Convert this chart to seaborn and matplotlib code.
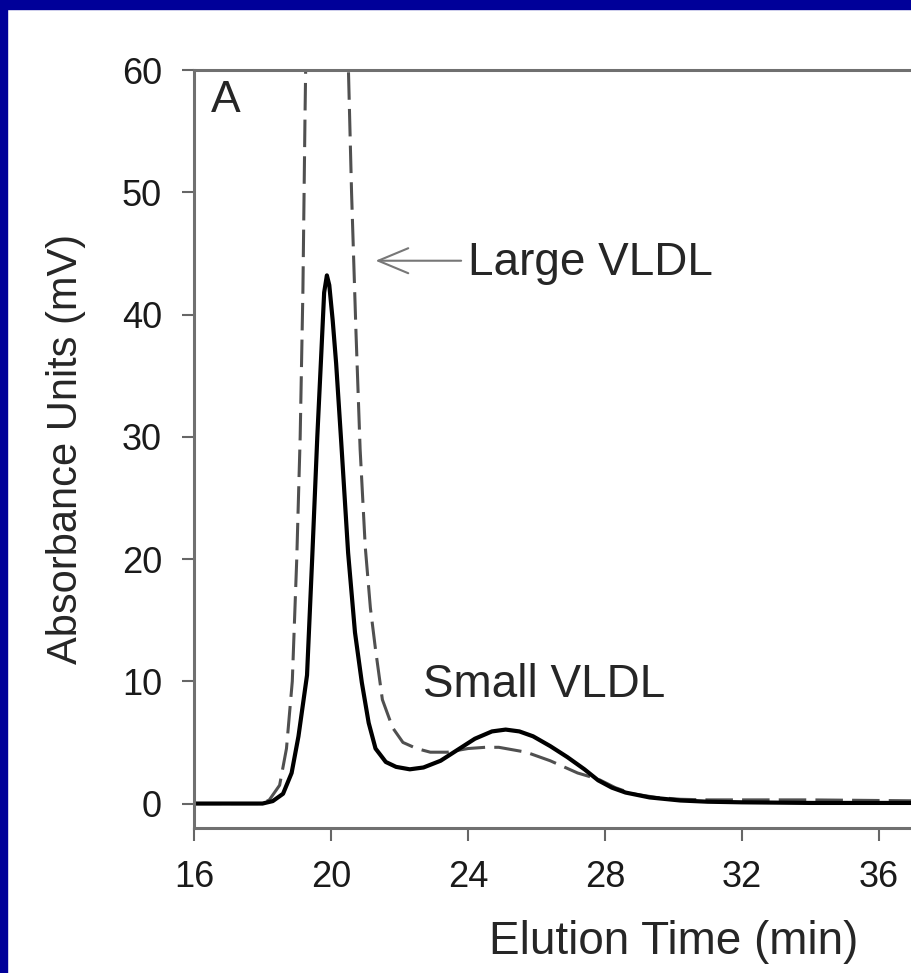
import matplotlib
matplotlib.use("Agg")
import matplotlib.pyplot as plt
from matplotlib.patches import Rectangle
import seaborn as sns
import pandas as pd

# elution profile, solid trace
x_solid = [16.0, 17.0, 18.0, 18.3, 18.6, 18.85, 19.05, 19.2, 19.3, 19.45, 19.6,
           19.72, 19.8, 19.88, 19.95, 20.05, 20.15, 20.3, 20.5, 20.7, 20.9, 21.1,
           21.3, 21.6, 21.9, 22.3, 22.7, 23.2, 23.7, 24.2, 24.7, 25.1, 25.5,
           25.9, 26.4, 26.9, 27.4, 27.8, 28.2, 28.6, 29.3, 30.2, 31.0, 32.0,
           34.0, 36.0, 38.0, 40.0]
y_solid = [0, 0, 0, 0.2, 0.8, 2.5, 5.5, 8.5, 10.5, 20, 30,
           37, 41.8, 43.2, 42.4, 39.5, 36, 29.5, 20.5, 14, 9.9, 6.6,
           4.5, 3.4, 3.0, 2.8, 2.95, 3.5, 4.4, 5.3, 5.9, 6.05, 5.9,
           5.5, 4.7, 3.8, 2.8, 1.9, 1.3, 0.9, 0.5, 0.25, 0.15, 0.1,
           0.05, 0.05, 0.05, 0.05]

# dashed trace (peak runs off the top of the plot)
x_dash = [16.0, 17.0, 18.0, 18.2, 18.5, 18.7, 18.87, 19.0, 19.1, 19.18, 19.24,
          19.3, 19.5, 19.7, 19.85, 20.0, 20.2, 20.4, 20.5, 20.6, 20.73, 20.85,
          21.0, 21.15, 21.3, 21.5, 21.8, 22.1, 22.5, 22.9, 23.4, 24.0, 24.5,
          24.9, 25.3, 25.7, 26.4, 27.2, 27.8, 28.3, 28.8, 29.5, 30.2, 31.0,
          32.0, 34.0, 36.0, 38.0, 40.0]
y_dash = [0, 0, 0, 0.3, 1.5, 4.5, 10, 20, 30, 42, 56,
          68, 78, 83, 84, 83, 78, 68, 61, 50, 38.5, 29,
          21, 16, 12.6, 8.5, 6.2, 5.0, 4.5, 4.2, 4.2, 4.5, 4.6,
          4.6, 4.4, 4.2, 3.5, 2.5, 2.0, 1.3, 0.8, 0.5, 0.35, 0.3,
          0.3, 0.3, 0.25, 0.2, 0.2]

x_ticks = [16, 20, 24, 28, 32, 36]
y_ticks = [0, 10, 20, 30, 40, 50, 60]

df_solid = pd.DataFrame({"time": x_solid, "abs": y_solid})
df_dash = pd.DataFrame({"time": x_dash, "abs": y_dash})

sns.set_style("ticks")
plt.rcParams["font.family"] = ["Liberation Sans", "DejaVu Sans"]

fig = plt.figure(figsize=(9.12, 9.73), dpi=100)
# the panel is cropped on the right, so the axes run past the figure edge
ax = fig.add_axes([194 / 912, 1 - 828 / 973, 959 / 912, 758 / 973])

sns.lineplot(data=df_dash, x="time", y="abs", ax=ax, color="#505050",
             linewidth=2.2, linestyle=(0, (9, 3)), estimator=None, sort=False)
sns.lineplot(data=df_solid, x="time", y="abs", ax=ax, color="black",
             linewidth=3.0, estimator=None, sort=False)

ax.set_xlim(16, 44)
ax.set_ylim(-2, 60)
ax.set_xticks(x_ticks)
ax.set_yticks(y_ticks)
ax.tick_params(axis="both", labelsize=26, length=9, width=1.5,
               color="#666666", labelcolor="#1a1a1a", pad=14)
for side in ["left", "bottom", "top", "right"]:
    ax.spines[side].set_visible(True)
    ax.spines[side].set_color("#707070")
    ax.spines[side].set_linewidth(2.2)

ax.set_xlabel("Elution Time (min)", fontsize=33, labelpad=18)
ax.set_ylabel("Absorbance Units (mV)", fontsize=30, labelpad=26)

ax.text(16.5, 57.5, "A", fontsize=32, ha="left", va="center")
ax.text(24.0, 44.2, "Large VLDL", fontsize=33, ha="left", va="center")
ax.text(22.7, 9.7, "Small VLDL", fontsize=33, ha="left", va="center")
ax.annotate("", xy=(21.3, 44.4), xytext=(23.8, 44.4),
            arrowprops=dict(arrowstyle="->,head_length=0.6,head_width=0.25",
                            color="#777777", lw=1.5, mutation_scale=36,
                            shrinkA=0, shrinkB=0))

# navy slide border along the top and left edges
fig.add_artist(Rectangle((0, 1 - 9 / 973), 1, 9 / 973, transform=fig.transFigure,
                         color="#000099", zorder=10))
fig.add_artist(Rectangle((0, 0), 7 / 912, 1, transform=fig.transFigure,
                         color="#000099", zorder=10))

fig.savefig("out.png", dpi=100)
